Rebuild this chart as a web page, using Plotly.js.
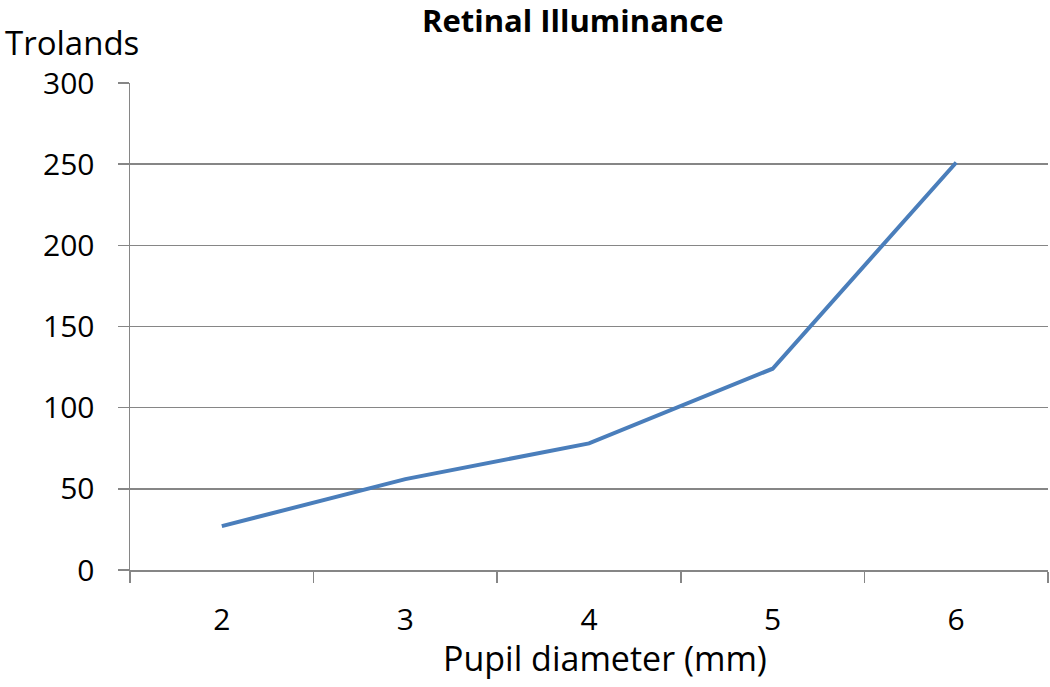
<!DOCTYPE html>
<html>
<head>
<meta charset="utf-8">
<script src="https://cdn.plot.ly/plotly-3.0.1.min.js"></script>
<style>html,body{margin:0;padding:0;background:#fff;}#chart{width:1050px;height:687px;}</style>
</head>
<body>
<div id="chart"></div>
<script>
const pupilDiameters = ["2", "3", "4", "5", "6"];
const trolands = [27, 56, 78, 124, 251];
const yTicks = [0, 50, 100, 150, 200, 250, 300];

const font = "Open Sans, Lato, sans-serif";
const gray = "#868686";

const trace = {
  x: pupilDiameters,
  y: trolands,
  type: "scatter",
  mode: "lines",
  line: {color: "#4A7EBB", width: 4},
  hoverinfo: "x+y"
};

const layout = {
  width: 1050, height: 687,
  margin: {l: 130, r: 2, t: 83, b: 117},
  paper_bgcolor: "#fff", plot_bgcolor: "#fff",
  showlegend: false,
  font: {family: font, color: "#000"},
  xaxis: {
    type: "category",
    range: [-0.5, 4.5],
    tickson: "boundaries",
    ticks: "outside", ticklen: 11, tickcolor: gray, tickwidth: 1.5,
    showline: true, linecolor: gray, linewidth: 1.5,
    showgrid: false, zeroline: false,
    tickfont: {family: font, size: 30, color: "#000"},
    ticklabelstandoff: 22
  },
  yaxis: {
    range: [0, 300],
    tickvals: yTicks,
    ticks: "outside", ticklen: 11, tickcolor: gray, tickwidth: 1.5,
    showline: true, linecolor: gray, linewidth: 1.5,
    showgrid: true, gridcolor: gray, gridwidth: 1.5,
    zeroline: false,
    tickfont: {family: font, size: 30, color: "#000"},
    ticklabelstandoff: 17
  },
  annotations: [
    {text: "<b>Retinal Illuminance</b>", xref: "paper", yref: "paper", x: 0.4826, y: 1.13,
     xanchor: "center", yanchor: "middle", showarrow: false,
     font: {family: font, size: 31, color: "#000"}},
    {text: "Trolands", xref: "paper", yref: "paper", x: -0.1383, y: 1.084,
     xanchor: "left", yanchor: "middle", showarrow: false,
     font: {family: font, size: 33, color: "#000"}},
    {text: "Pupil diameter (mm)", xref: "paper", yref: "paper", x: 0.517, y: -0.181,
     xanchor: "center", yanchor: "middle", showarrow: false,
     font: {family: font, size: 34, color: "#000"}}
  ]
};

Plotly.newPlot("chart", [trace], layout, {displayModeBar: false, staticPlot: true});
</script>
</body>
</html>
